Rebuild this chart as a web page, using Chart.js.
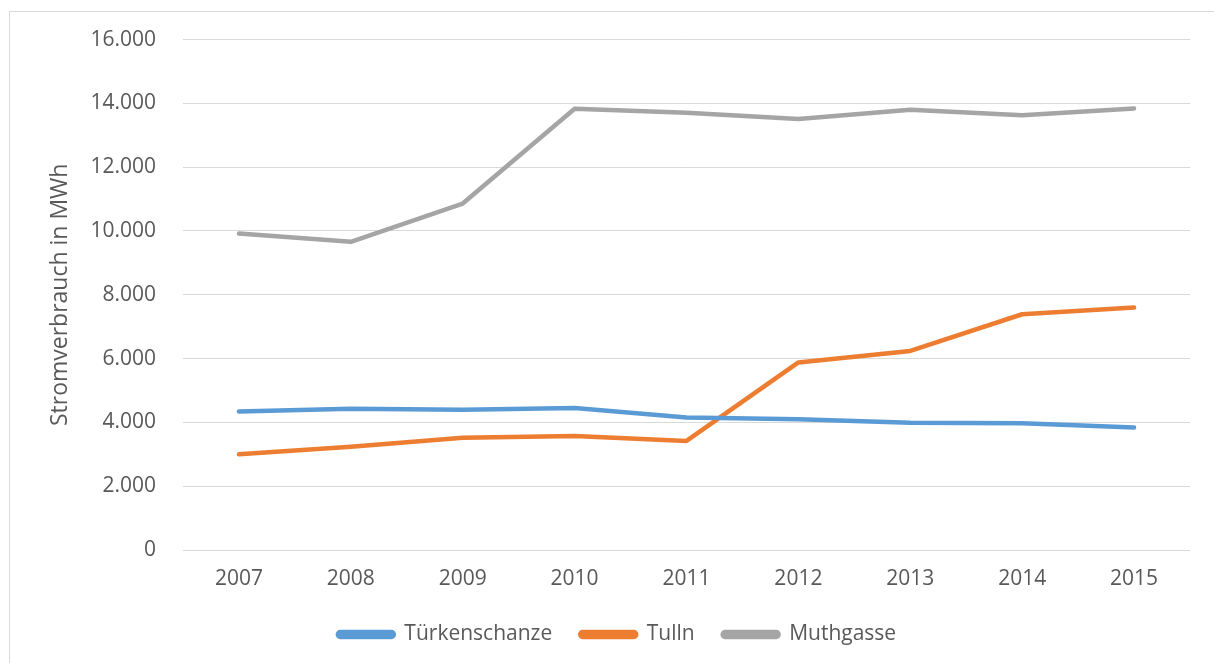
<!DOCTYPE html>
<html lang="de">
<head>
    <meta charset="UTF-8">
    <title>Stromverbrauch</title>
    <script src="https://cdn.jsdelivr.net/npm/chart.js"></script>
    <style>
        html, body { margin: 0; padding: 0; background: #ffffff; }
        #wrap { width: 1214px; height: 663px; position: relative; }
    </style>
</head>
<body>
    <div id="wrap">
        <canvas id="stromChart" width="1214" height="663"></canvas>
    </div>

    <script>
        // Daten
        const years = ['2007', '2008', '2009', '2010', '2011', '2012', '2013', '2014', '2015'];
        const tuerkenschanze = [4340, 4430, 4400, 4450, 4150, 4100, 3990, 3970, 3840];
        const tulln = [3000, 3240, 3520, 3570, 3420, 5880, 6240, 7390, 7600];
        const muthgasse = [9920, 9660, 10860, 13830, 13710, 13510, 13800, 13630, 13840];
        const seriesNames = ['Türkenschanze', 'Tulln', 'Muthgasse'];
        const yTicks = [0, 2000, 4000, 6000, 8000, 10000, 12000, 14000, 16000];

        const textColor = '#595959';
        const gridColor = '#d9d9d9';
        const font = { family: '"Open Sans", sans-serif', size: 21 };

        function formatDe(v) {
            return String(v).replace(/\B(?=(\d{3})+(?!\d))/g, '.');
        }

        // outer frame like in the office chart
        const framePlugin = {
            id: 'frame',
            beforeDraw(chart) {
                const ctx = chart.ctx;
                ctx.save();
                ctx.strokeStyle = '#d9d9d9';
                ctx.lineWidth = 1;
                ctx.strokeRect(9.5, 11.5, 1400, 1000);
                ctx.restore();
            }
        };

        function lineDs(label, data, color) {
            return {
                label: label,
                data: data,
                borderColor: color,
                backgroundColor: color,
                borderWidth: 4.5,
                borderCapStyle: 'round',
                borderJoinStyle: 'round',
                pointRadius: 0,
                pointHoverRadius: 0,
                tension: 0,
                fill: false
            };
        }

        const ctx = document.getElementById('stromChart').getContext('2d');
        const stromChart = new Chart(ctx, {
            type: 'line',
            data: {
                labels: years,
                datasets: [
                    lineDs(seriesNames[0], tuerkenschanze, '#5b9bd5'),
                    lineDs(seriesNames[1], tulln, '#ed7d31'),
                    lineDs(seriesNames[2], muthgasse, '#a5a5a5')
                ]
            },
            options: {
                responsive: false,
                animation: false,
                layout: {
                    padding: { left: 44, right: 24, top: 39, bottom: 8 }
                },
                plugins: {
                    tooltip: { enabled: false },
                    legend: {
                        position: 'bottom',
                        labels: {
                            color: textColor,
                            font: font,
                            boxWidth: 56,
                            boxHeight: 5,
                            padding: 28,
                            useBorderRadius: true,
                            borderRadius: 2.5
                        }
                    }
                },
                scales: {
                    x: {
                        offset: true,
                        grid: { display: false, drawTicks: false },
                        border: { display: false },
                        ticks: { color: textColor, font: font, padding: 16 },
                        afterFit(scale) { scale.height = 46; }
                    },
                    y: {
                        min: 0,
                        max: 16000,
                        afterBuildTicks(scale) {
                            scale.ticks = yTicks.map(v => ({ value: v }));
                        },
                        grid: { color: gridColor, lineWidth: 1, drawTicks: false },
                        border: { display: false },
                        ticks: {
                            color: textColor,
                            font: font,
                            padding: 27,
                            callback: v => formatDe(v)
                        },
                        title: {
                            display: true,
                            text: 'Stromverbrauch in MWh',
                            color: textColor,
                            font: { family: font.family, size: 23 },
                            padding: { top: 3, bottom: 0 }
                        },
                        afterFit(scale) { scale.width = 139; }
                    }
                }
            },
            plugins: [framePlugin]
        });
    </script>
</body>
</html>
